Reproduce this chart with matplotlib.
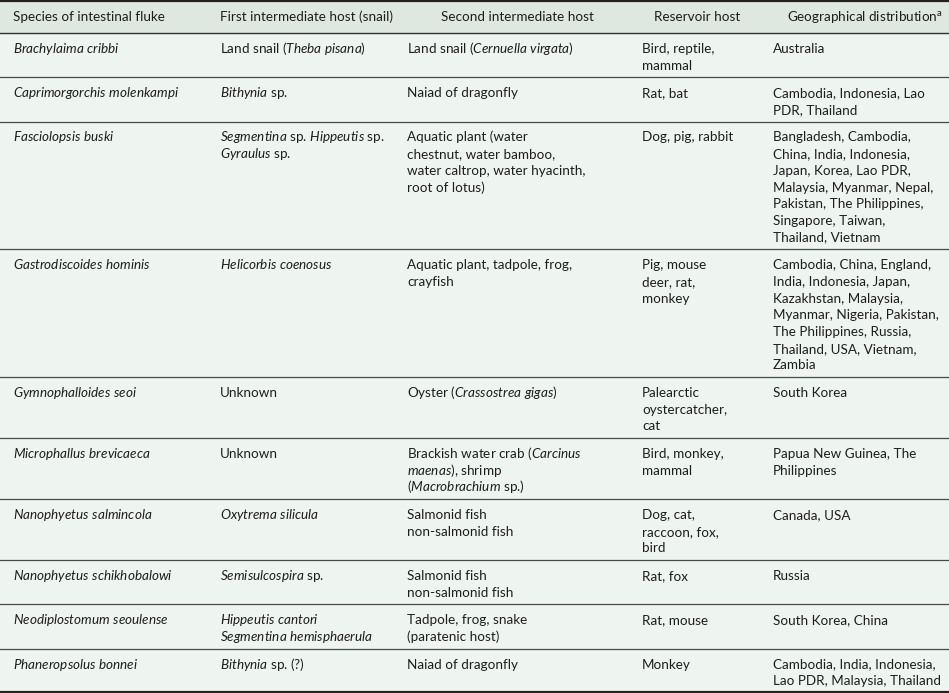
import re
import matplotlib
matplotlib.use("Agg")
import matplotlib.pyplot as plt

# ---------------------------------------------------------------
# table content (*...* marks italic text)
# ---------------------------------------------------------------
headers = ["Species of intestinal fluke", "First intermediate host (snail)",
           "Second intermediate host", "Reservoir host",
           "Geographical distribution$^{\\mathrm{a}}$"]

species = [["*Brachylaima cribbi*"],
           ["*Caprimorgorchis molenkampi*"],
           ["*Fasciolopsis buski*"],
           ["*Gastrodiscoides hominis*"],
           ["*Gymnophalloides seoi*"],
           ["*Microphallus brevicaeca*"],
           ["*Nanophyetus salmincola*"],
           ["*Nanophyetus schikhobalowi*"],
           ["*Neodiplostomum seoulense*"],
           ["*Phaneropsolus bonnei*"]]

first_host = [["Land snail (*Theba pisana*)"],
              ["*Bithynia* sp."],
              ["*Segmentina* sp. *Hippeutis* sp.", "*Gyraulus* sp."],
              ["*Helicorbis coenosus*"],
              ["Unknown"],
              ["Unknown"],
              ["*Oxytrema silicula*"],
              ["*Semisulcospira* sp."],
              ["*Hippeutis cantori*", "*Segmentina hemisphaerula*"],
              ["*Bithynia* sp. (?)"]]

second_host = [["Land snail (*Cernuella virgata*)"],
               ["Naiad of dragonfly"],
               ["Aquatic plant (water", "chestnut, water bamboo,",
                "water caltrop, water hyacinth,", "root of lotus)"],
               ["Aquatic plant, tadpole, frog,", "crayfish"],
               ["Oyster (*Crassostrea gigas*)"],
               ["Brackish water crab (*Carcinus*", "*maenas*), shrimp",
                "(*Macrobrachium* sp.)"],
               ["Salmonid fish", "non-salmonid fish"],
               ["Salmonid fish", "non-salmonid fish"],
               ["Tadpole, frog, snake", "(paratenic host)"],
               ["Naiad of dragonfly"]]

reservoir = [["Bird, reptile,", "mammal"],
             ["Rat, bat"],
             ["Dog, pig, rabbit"],
             ["Pig, mouse", "deer, rat,", "monkey"],
             ["Palearctic", "oystercatcher,", "cat"],
             ["Bird, monkey,", "mammal"],
             ["Dog, cat,", "raccoon, fox,", "bird"],
             ["Rat, fox"],
             ["Rat, mouse"],
             ["Monkey"]]

distribution = [["Australia"],
                ["Cambodia, Indonesia, Lao", "PDR, Thailand"],
                ["Bangladesh, Cambodia,", "China, India, Indonesia,",
                 "Japan, Korea, Lao PDR,", "Malaysia, Myanmar, Nepal,",
                 "Pakistan, The Philippines,", "Singapore, Taiwan,",
                 "Thailand, Vietnam"],
                ["Cambodia, China, England,", "India, Indonesia, Japan,",
                 "Kazakhstan, Malaysia,", "Myanmar, Nigeria, Pakistan,",
                 "The Philippines, Russia,", "Thailand, USA, Vietnam,",
                 "Zambia"],
                ["South Korea"],
                ["Papua New Guinea, The", "Philippines"],
                ["Canada, USA"],
                ["Russia"],
                ["South Korea, China"],
                ["Cambodia, India, Indonesia,", "Lao PDR, Malaysia, Thailand"]]

columns = [species, first_host, second_host, reservoir, distribution]

# ---------------------------------------------------------------
# layout / style
# ---------------------------------------------------------------
W, H = 949, 693
col_x = [13, 220, 407, 642, 773]
head_x = [89, 307, 517, 697, 865]
header_h = 33
line_h = 16.7
row_pad = 10.9
first_base = 19.8
fs = 9.75
txt_col = "#1f1d1e"
body_bg = "#eef5f0"
head_bg = "#dfe7e1"

plt.rcParams["font.family"] = ["Lato", "DejaVu Sans"]
plt.rcParams["mathtext.fontset"] = "custom"
plt.rcParams["mathtext.rm"] = "Lato"
plt.rcParams["mathtext.it"] = "Lato:italic"
plt.rcParams["mathtext.default"] = "it"


def to_math(s):
    # *word word* -> $word\ word$ (italic through mathtext)
    return re.sub(r"\*([^*]+)\*",
                  lambda m: "$" + m.group(1).replace(" ", r"\ ") + "$", s)


fig = plt.figure(figsize=(W / 100, H / 100), dpi=100)
fig.patch.set_facecolor(body_bg)
ax = fig.add_axes([0, 0, 1, 1])
ax.set_xlim(0, W)
ax.set_ylim(H, 0)
ax.axis("off")

# header
ax.axhspan(0, header_h, color=head_bg, lw=0)
for x, h in zip(head_x, headers):
    ax.text(x, 21, h, fontsize=fs, color=txt_col, ha="center", va="baseline")

ax.axhline(1, color="#222222", lw=1.6)
ax.axhline(header_h, color="#333333", lw=1.0)

# body rows
n_rows = len(species)
top = header_h
for r in range(n_rows):
    n_lines = max(len(col[r]) for col in columns)
    for x, col in zip(col_x, columns):
        for k, line in enumerate(col[r]):
            ax.text(x, top + first_base + k * line_h, to_math(line),
                    fontsize=fs, color=txt_col, ha="left", va="baseline")
    top += n_lines * line_h + row_pad
    if r < n_rows - 1:
        ax.axhline(top, color="#4a4a4a", lw=0.9)
    else:
        ax.axhline(min(top, H - 1), color="#222222", lw=1.6)

fig.savefig("out.png", dpi=100, facecolor=fig.get_facecolor())
